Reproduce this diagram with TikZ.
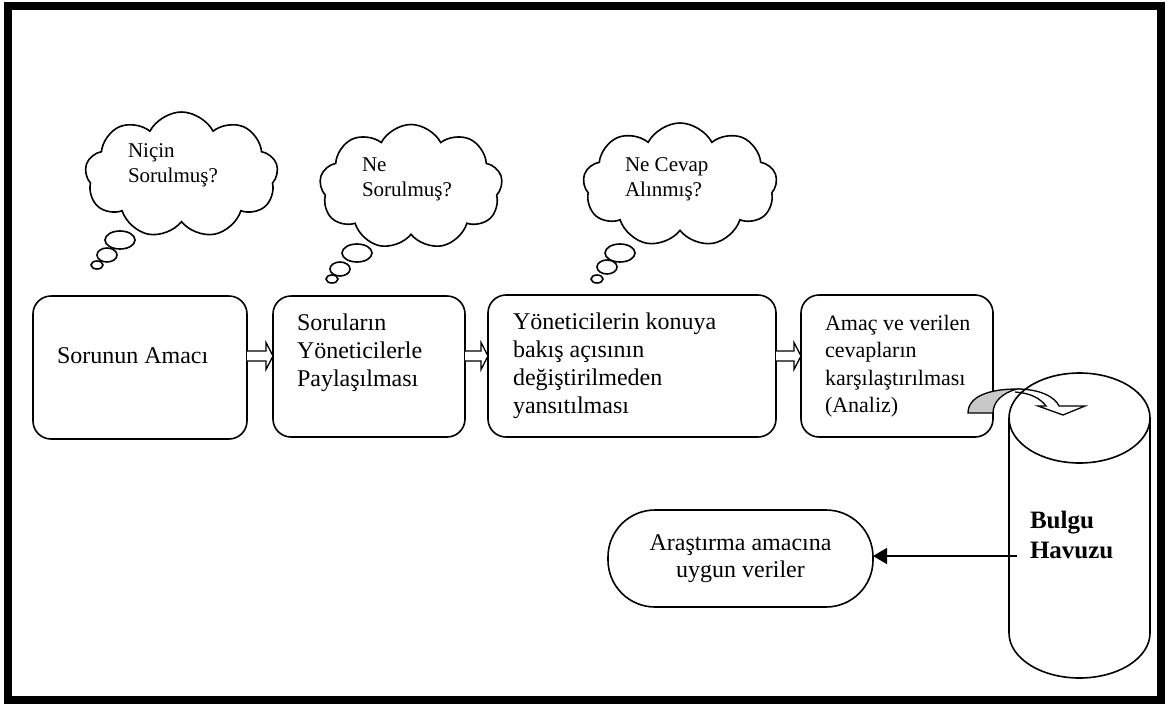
\documentclass[tikz,border=0pt]{standalone}
\usepackage{fontspec}
\setmainfont{Liberation Serif}
\usetikzlibrary{shapes.symbols,shapes.geometric,arrows.meta,calc}
\definecolor{foldgray}{RGB}{200,200,200}

\begin{document}
\begin{tikzpicture}[x=1pt,y=-1pt,
  every node/.style={inner sep=0pt, outer sep=0pt},
  stepbox/.style={draw, line width=1.6pt, rounded corners=18pt},
  boxtext/.style={anchor=north west, align=left, font=\fontsize{24}{28}\selectfont},
  thought/.style={cloud, draw, line width=1.6pt, cloud puffs=9, cloud puff arc=125, cloud ignores aspect},
  bubble/.style={ellipse, draw, fill=white, line width=1.6pt},
  cloudtext/.style={anchor=north west, align=left, font=\fontsize{21}{24.5}\selectfont},
  hollow/.style={draw, line width=1.3pt, fill=white, line join=miter},
  link/.style={line width=1.6pt, -{Triangle[length=14pt,width=16pt]}},
]
\useasboundingbox (0,0) rectangle (1169,704);
\draw[line width=8pt] (8,6) rectangle (1161,700);

% process steps
\node[stepbox, minimum width=214, minimum height=143] (b1) at (140,367.5) {};
\node[stepbox, minimum width=192, minimum height=141] (b2) at (369,366.5) {};
\node[stepbox, minimum width=288, minimum height=142] (b3) at (632,366) {};
\node[stepbox, minimum width=192, minimum height=142] (b4) at (897,366) {};

\node[boxtext, anchor=base west] (t1) at (57,363) {Sorunun Amacı};
\node[boxtext] (t2) at (297,313.5) {Soruların\\Yöneticilerle\\Paylaşılması};
\node[boxtext] (t3) at (513,312.5) {Yöneticilerin konuya\\bakış açısının\\değiştirilmeden\\yansıtılması};
\node[boxtext, font=\fontsize{22}{27.5}\selectfont] (t4) at (825,315) {Amaç ve verilen\\cevapların\\karşılaştırılması\\(Analiz)};

% hollow block arrows between the steps
\foreach \s/\t in {b1/b2,b2/b3,b3/b4}{
  \path (\s.east |- 0,356) coordinate (p) (\t.west |- 0,356) coordinate (q);
  \draw[hollow] ($(p)+(0,-5)$) -- ($(q)+(-7,-5)$) -- ($(q)+(-7,-13.5)$) -- (q)
    -- ($(q)+(-7,13.5)$) -- ($(q)+(-7,5)$) -- ($(p)+(0,5)$);
}

% thought clouds
\node[thought, minimum width=193, minimum height=126] (c1) at (181.5,175) {};
\node[bubble, minimum width=30, minimum height=18] (c1a) at (120,240) {};
\node[bubble, minimum width=20, minimum height=14] (c1b) at (107,255) {};
\node[bubble, minimum width=12, minimum height=8] (c1c) at (97,265) {};
\node[cloudtext] (q1) at (128,144) {Niçin\\Sorulmuş?};

\node[thought, minimum width=183, minimum height=125] (c2) at (411,187) {};
\node[bubble, minimum width=30, minimum height=18] (c2a) at (357,253) {};
\node[bubble, minimum width=20, minimum height=14] (c2b) at (340,269) {};
\node[bubble, minimum width=12, minimum height=8] (c2c) at (332,279) {};
\node[cloudtext] (q2) at (362,158) {Ne\\Sorulmuş?};

\node[thought, minimum width=194, minimum height=124] (c3) at (680,185) {};
\node[bubble, minimum width=30, minimum height=18] (c3a) at (620,253) {};
\node[bubble, minimum width=20, minimum height=14] (c3b) at (607,267) {};
\node[bubble, minimum width=12, minimum height=8] (c3c) at (597,279) {};
\node[cloudtext] (q3) at (625,158) {Ne Cevap\\Alınmış?};

% findings pool (cylinder)
\draw[line width=1.6pt] (1009,418) -- (1009,633)
  arc[start angle=180, end angle=0, x radius=70.5, y radius=45] -- (1150,418);
\draw[line width=1.6pt] (1079.5,418) ellipse [x radius=70.5, y radius=45];
\node[anchor=north west, align=left, font=\bfseries\fontsize{25}{30}\selectfont] (pool) at (1030,511) {Bulgu\\Havuzu};
\coordinate (poolside) at (1017,556);

% curved arrow into the pool
\draw[line width=1.3pt, fill=foldgray] (968,413) .. controls (968,396) and (990,389) .. (1017,389)
  .. controls (1002,393) and (993,402) .. (993,413) -- cycle;
\draw[line width=1.3pt, line join=miter] (1017,389) .. controls (1040,389) and (1055,397) .. (1059,406)
  -- (1085,406) -- (1063,415) -- (1038,406) -- (1046,406)
  .. controls (1040,398) and (1030,393) .. (1015,392);

% result
\node[draw, line width=1.6pt, rounded corners=47pt, minimum width=265, minimum height=97,
  align=center, font=\fontsize{24}{27}\selectfont] (goal) at (740.5,558.5) {Araştırma amacına\\uygun veriler};
\draw[link] (poolside) -- (poolside -| goal.east);
\end{tikzpicture}
\end{document}
